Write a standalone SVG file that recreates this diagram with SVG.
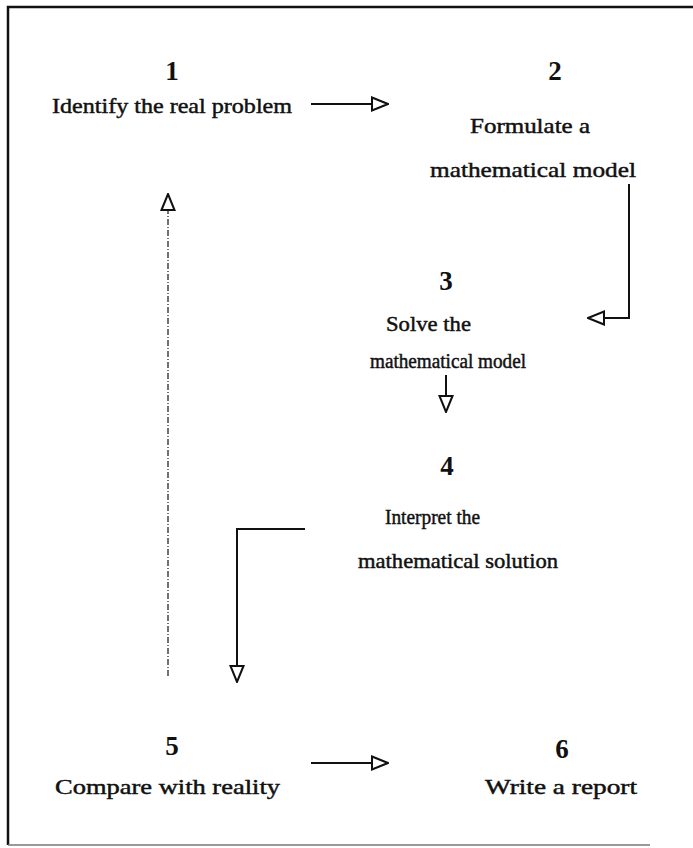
<svg xmlns="http://www.w3.org/2000/svg" width="693" height="848" viewBox="0 0 693 848">
<defs>
<style>
.num{font-family:"Liberation Serif","Times New Roman",serif;font-size:27px;font-weight:bold;fill:#111;text-anchor:middle;}
.lbl{font-family:"Liberation Serif","Times New Roman",serif;font-size:21px;fill:#111;stroke:#111;stroke-width:0.45;}
.ln{fill:none;stroke:#111;stroke-width:2;}
.dash{fill:none;stroke:#444;stroke-width:1.5;stroke-dasharray:6 2 1 2;}
.frame{fill:none;stroke:#111;stroke-width:2.5;}
</style>
<marker id="tri" viewBox="0 0 18 16" refX="17" refY="8" markerWidth="18" markerHeight="16" markerUnits="userSpaceOnUse" orient="auto">
<path d="M1,1.5 L17,8 L1,14.5 Z" fill="#fff" stroke="#111" stroke-width="2"/>
</marker>
</defs>
<rect width="693" height="848" fill="#fff"/>
<g id="frame">
<path class="frame" d="M693,7 L8,7 L8,845"/>
<path d="M8,845 L650,845" fill="none" stroke="#777" stroke-width="1.5"/>
</g>
<g id="connectors">
<path class="ln" d="M311,104 L388,104" marker-end="url(#tri)"/>
<path class="ln" d="M629,184 L629,318 L588,318" marker-end="url(#tri)"/>
<path class="ln" d="M446,375 L446,412" marker-end="url(#tri)"/>
<path class="ln" d="M305,529 L237,529 L237,682" marker-end="url(#tri)"/>
<path class="dash" d="M168,676 L168,194" marker-end="url(#tri)"/>
<path class="ln" d="M311,763 L388,763" marker-end="url(#tri)"/>
</g>
<g id="node1">
<text class="num" x="172" y="80">1</text>
<text class="lbl" x="52" y="113" textLength="240" lengthAdjust="spacingAndGlyphs">Identify the real problem</text>
</g>
<g id="node2">
<text class="num" x="555" y="80">2</text>
<text class="lbl" x="470" y="133" textLength="120" lengthAdjust="spacingAndGlyphs">Formulate a</text>
<text class="lbl" x="430" y="177" textLength="206" lengthAdjust="spacingAndGlyphs" style="font-size:22px">mathematical model</text>
</g>
<g id="node3">
<text class="num" x="446" y="290">3</text>
<text class="lbl" x="386" y="331" textLength="85" lengthAdjust="spacingAndGlyphs">Solve the</text>
<text class="lbl" x="370" y="368" textLength="156" lengthAdjust="spacingAndGlyphs" style="font-size:20px">mathematical model</text>
</g>
<g id="node4">
<text class="num" x="447" y="475">4</text>
<text class="lbl" x="385" y="524" textLength="95" lengthAdjust="spacingAndGlyphs">Interpret the</text>
<text class="lbl" x="358" y="568" textLength="200" lengthAdjust="spacingAndGlyphs">mathematical solution</text>
</g>
<g id="node5">
<text class="num" x="172" y="755">5</text>
<text class="lbl" x="55" y="794" textLength="225" lengthAdjust="spacingAndGlyphs">Compare with reality</text>
</g>
<g id="node6">
<text class="num" x="562" y="758">6</text>
<text class="lbl" x="485" y="794" textLength="152" lengthAdjust="spacingAndGlyphs">Write a report</text>
</g>
</svg>
